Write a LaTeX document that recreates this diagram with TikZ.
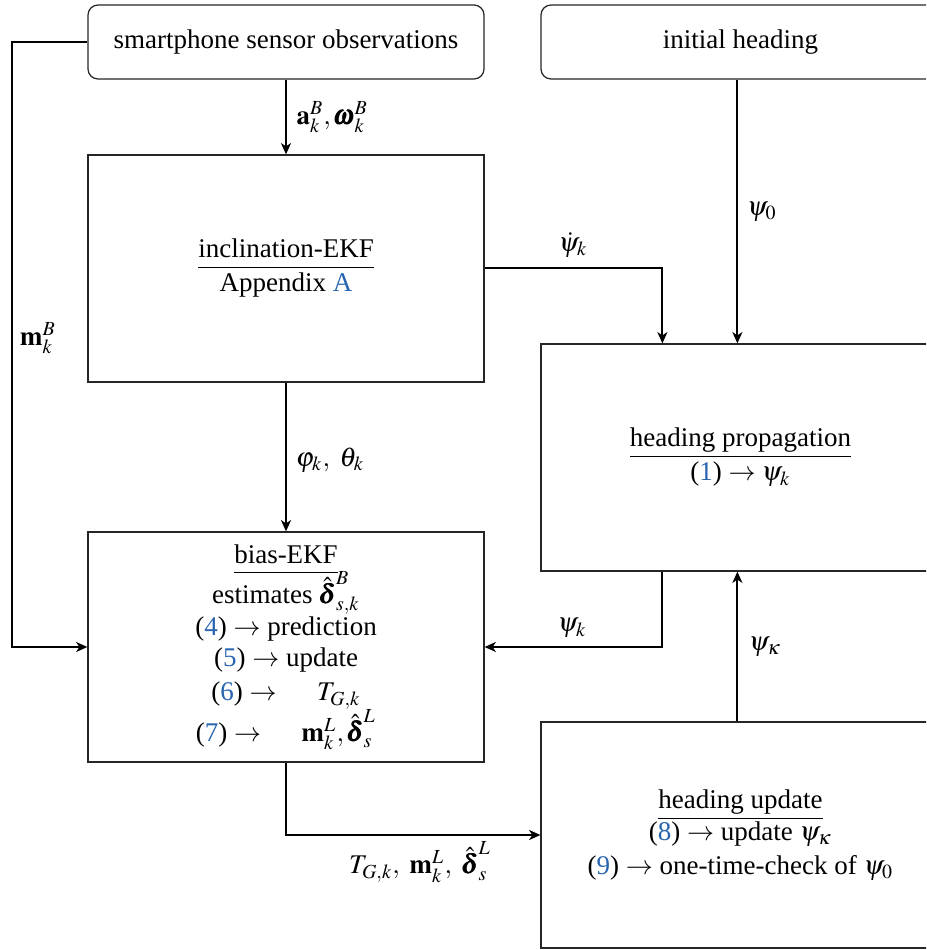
\documentclass[tikz,border=0pt]{standalone}
\usepackage{amsmath}
\usepackage{mathptmx}
\usepackage[no-math]{fontspec}
\setmainfont{Liberation Serif}
\usetikzlibrary{arrows.meta}
\definecolor{refblue}{RGB}{40,100,175}
\newcommand{\rf}[1]{\textcolor{refblue}{#1}}
\newcommand{\ttl}[1]{\underline{\vphantom{gp}#1}}
\newcommand{\bdelta}{\hat{\pmb{\delta}}}
\begin{document}
\begin{tikzpicture}[x=0.4pt,y=-0.4pt,
  box/.style={draw=black!85, line width=0.5pt, inner sep=0pt, align=center, font=\fontsize{10.8}{13.6}\selectfont},
  rbox/.style={box, rounded corners=4pt},
  conn/.style={-{Stealth[length=4.5pt,width=4pt,inset=1.3pt]}, line width=0.8pt},
  lbl/.style={inner sep=0pt, font=\fontsize{10.8}{13}\selectfont}]
\useasboundingbox (0,0) rectangle (926,950);
\clip (0,0) rectangle (926,950);
\node[rbox, minimum width=158.4pt, minimum height=29.6pt] (obs) at (286,42) {smartphone sensor observations};
\node[rbox, minimum width=159.6pt, minimum height=29.6pt] (init) at (740.5,42) {initial heading};
\node[box, minimum width=158.4pt, minimum height=90.8pt] (incl) at (286,268.5) {\ttl{inclination-EKF}\\[0pt]Appendix \rf{A}};
\node[box, minimum width=159.6pt, minimum height=90.8pt] (prop) at (740.5,457.5) {\ttl{heading propagation}\\[0pt](\rf{1}) $\rightarrow \psi_k$};
\node[box, minimum width=158.4pt, minimum height=92pt] (bias) at (286,647) {\ttl{bias-EKF}\\[-2pt]
estimates $\bdelta_{s,k}^B$\\[-1pt]
(\rf{4}) $\rightarrow$ prediction\\[-1pt]
(\rf{5}) $\rightarrow$ update\\[0pt]
(\rf{6}) $\rightarrow$ \quad\ $T_{G,k}$\\[-1pt]
(\rf{7}) $\rightarrow$ \quad\ $\mathbf{m}_k^L, \bdelta_s^L$};
\node[box, minimum width=159.6pt, minimum height=90.4pt] (upd) at (740.5,835) {\ttl{heading update}\\[-1pt]
(\rf{8}) $\rightarrow$ update $\psi_\kappa$\\[0pt]
(\rf{9}) $\rightarrow$ one-time-check of $\psi_0$};
\coordinate (lft) at (12,42);
\draw[conn] (obs.south) -- (incl.north);
\draw[conn] (incl.south) -- (bias.north);
\draw[conn] (obs.west) -- (lft) |- (bias.west);
\draw[conn] (incl.east) -| ([xshift=48.8pt]prop.north west);
\draw[conn] ([xshift=78.8pt]init.south west) -- ([xshift=78.8pt]prop.north west);
\draw[conn] ([xshift=48.8pt]prop.south west) |- (bias.east);
\draw[conn] ([xshift=78.8pt]upd.north west) -- ([xshift=78.8pt]prop.south west);
\draw[conn] (bias.south) |- (upd.west);
\node[lbl, anchor=west] (la) at (296,117) {$\mathbf{a}_k^B, \pmb{\omega}_k^B$};
\node[lbl] (lm) at (38,338) {$\mathbf{m}_k^B$};
\node[lbl] (lpt) at (330,460) {$\varphi_k,\ \theta_k$};
\node[lbl] (lpd) at (573,245) {$\dot{\psi}_k$};
\node[lbl] (lp0) at (762,212) {$\psi_0$};
\node[lbl] (lpk) at (572,628) {$\psi_k$};
\node[lbl] (lpkap) at (765,647) {$\psi_\kappa$};
\node[lbl] (lt) at (420,862) {$T_{G,k},\ \mathbf{m}_k^L,\ \bdelta_s^L$};
\end{tikzpicture}
\end{document}
